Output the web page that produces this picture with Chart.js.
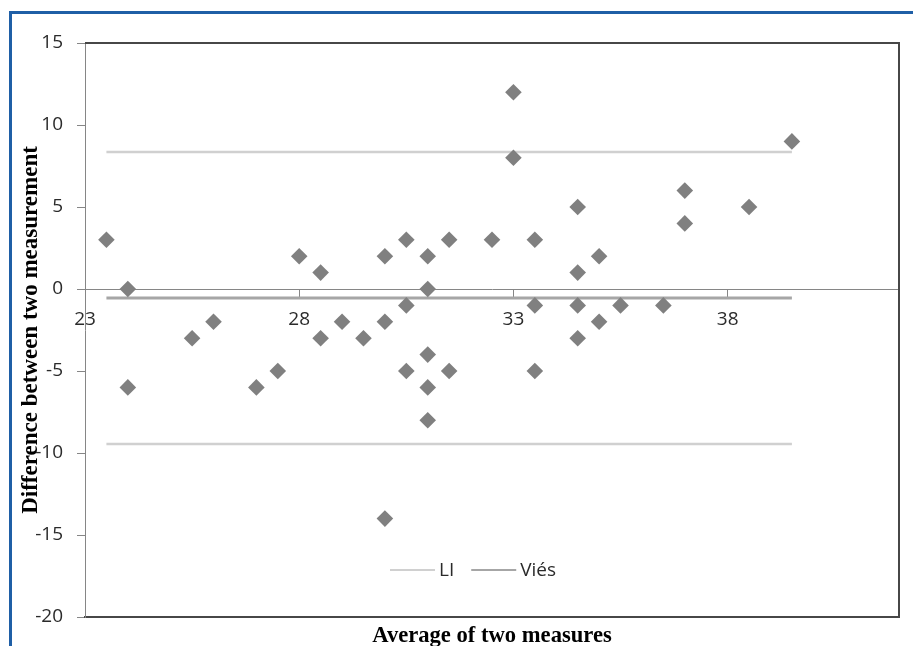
<!DOCTYPE html>
<html>
<head>
<meta charset="utf-8">
<title>Bland-Altman</title>
<script src="https://cdn.jsdelivr.net/npm/chart.js@4.4.0/dist/chart.umd.min.js"></script>
<style>
  html, body { margin: 0; padding: 0; background: #fff; overflow: hidden; }
  #wrap { position: relative; width: 913px; height: 646px; }
  #frame { position: absolute; left: 9px; top: 11px; width: 910px; height: 640px;
           border-left: 3px solid #1f5fa6; border-top: 3px solid #1f5fa6; }
  #myChart { position: absolute; left: 0; top: 0; }
</style>
</head>
<body>
<div id="wrap">
  <div id="frame"></div>
  <canvas id="myChart" width="913" height="646"></canvas>
</div>
<script>
// average of the two measures (x) and their difference (y)
const avgX  = [23.5, 24, 24, 25.5, 26, 27, 27.5, 28, 28.5, 28.5,
               29, 29.5, 30, 30, 30, 30.5, 30.5, 30.5, 31, 31,
               31, 31, 31, 31.5, 31.5, 32.5, 33, 33, 33.5, 33.5,
               33.5, 34.5, 34.5, 34.5, 34.5, 35, 35, 35.5, 36.5, 37,
               37, 38.5, 39.5];
const diffY = [3, 0, -6, -3, -2, -6, -5, 2, 1, -3,
               -2, -3, 2, -2, -14, 3, -1, -5, 2, 0,
               -4, -6, -8, 3, -5, 3, 12, 8, 3, -1,
               -5, 5, 1, -1, -3, 2, -2, -1, -1, 6,
               4, 5, 9];
const xTicks = [23, 28, 33, 38];
const limitX = [23.5, 39.5];
const upperLI = 8.35;
const lowerLI = -9.45;
const bias = -0.55;

const points = avgX.map((x, i) => ({x: x, y: diffY[i]}));
const liData = [
  {x: limitX[0], y: upperLI}, {x: limitX[1], y: upperLI},
  {x: limitX[1], y: null},
  {x: limitX[0], y: lowerLI}, {x: limitX[1], y: lowerLI}
];
const viesData = limitX.map(x => ({x: x, y: bias}));

const tickFont = {family: 'Open Sans', size: 19};
const titleFont = {family: 'Liberation Serif', weight: 'bold'};
const labelColor = '#2b2b2b';

// dark frame on top and right of the plot area
const framePlugin = {
  id: 'frame',
  afterDraw(chart) {
    const {ctx, chartArea: a} = chart;
    ctx.save();
    ctx.strokeStyle = '#474747';
    ctx.lineWidth = 2;
    ctx.beginPath();
    ctx.moveTo(a.left, a.top);
    ctx.lineTo(a.right, a.top);
    ctx.lineTo(a.right, a.bottom);
    ctx.stroke();
    ctx.restore();
  }
};

// legend drawn inside the plot, like the excel one
const insideLegend = {
  id: 'insideLegend',
  afterDraw(chart) {
    const {ctx, chartArea: a} = chart;
    const items = chart.data.datasets.filter(d => d.inLegend);
    ctx.save();
    ctx.font = '19px "Open Sans"';
    ctx.textBaseline = 'middle';
    let x = a.left + 305;
    const y = a.bottom - 47;
    items.forEach(d => {
      ctx.strokeStyle = d.borderColor;
      ctx.lineWidth = 2;
      ctx.beginPath();
      ctx.moveTo(x, y);
      ctx.lineTo(x + 45, y);
      ctx.stroke();
      ctx.fillStyle = labelColor;
      ctx.fillText(d.label, x + 49, y + 1);
      x += 49 + ctx.measureText(d.label).width + 17;
    });
    ctx.restore();
  }
};

const ctx = document.getElementById('myChart');
const myChart = new Chart(ctx, {
  type: 'scatter',
  data: {
    datasets: [{
      label: 'Diferença',
      data: points,
      pointStyle: 'rectRot',
      pointRadius: 8.3,
      backgroundColor: '#808080',
      borderWidth: 0,
      order: 0
    }, {
      label: 'LI',
      data: liData,
      showLine: true,
      borderColor: '#d0d0d0',
      borderWidth: 2.5,
      pointRadius: 0,
      inLegend: true,
      order: 1
    }, {
      label: 'Viés',
      data: viesData,
      showLine: true,
      borderColor: '#a6a6a6',
      borderWidth: 3,
      pointRadius: 0,
      inLegend: true,
      order: 2
    }]
  },
  options: {
    responsive: false,
    animation: false,
    layout: { padding: {left: 12, top: 43, right: 14, bottom: 0} },
    plugins: {
      legend: { display: false },
      tooltip: { enabled: false }
    },
    scales: {
      x: {
        type: 'linear',
        position: {y: 0},
        min: 23,
        max: 42,
        afterBuildTicks: s => { s.ticks = xTicks.map(v => ({value: v})); },
        grid: { drawOnChartArea: false, tickLength: 8, color: '#868686' },
        border: { color: '#868686', width: 1 },
        ticks: { padding: 11, maxRotation: 0, font: tickFont, color: labelColor }
      },
      x2: {
        type: 'linear',
        position: 'bottom',
        min: 23,
        max: 42,
        ticks: { display: false },
        grid: { display: false, drawTicks: false },
        border: { color: '#474747', width: 2 },
        title: {
          display: true,
          text: 'Average of two measures',
          font: Object.assign({size: 22.6, lineHeight: 0.9}, titleFont),
          color: '#000',
          padding: 0
        },
        afterFit: s => { s.height = 29; }
      },
      y: {
        type: 'linear',
        position: 'left',
        min: -20,
        max: 15,
        ticks: { stepSize: 5, padding: 14, font: tickFont, color: labelColor },
        grid: { drawOnChartArea: false, tickLength: 8, color: '#868686' },
        border: { color: '#868686', width: 1 },
        title: {
          display: true,
          text: 'Difference between two measurement',
          font: Object.assign({size: 23}, titleFont),
          color: '#000',
          padding: {top: 5, bottom: 0}
        },
        afterFit: s => { s.width = 73; }
      }
    }
  },
  plugins: [framePlugin, insideLegend]
});
</script>
</body>
</html>
